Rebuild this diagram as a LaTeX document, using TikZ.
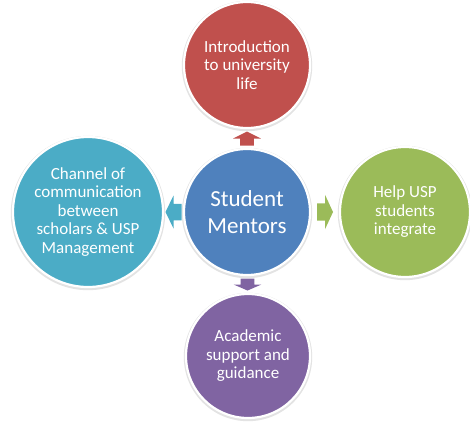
\documentclass[tikz,border=0pt]{standalone}
\usepackage{fontspec}
\setmainfont{Carlito}
\usetikzlibrary{calc}
\definecolor{cred}{HTML}{C0504D}
\definecolor{cteal}{HTML}{4BACC6}
\definecolor{cgreen}{HTML}{9BBB59}
\definecolor{cpurple}{HTML}{8064A2}
\definecolor{cblue}{HTML}{4F81BD}
\tikzset{
  bubble/.style={circle, draw=white, line width=2.2pt, text=white, align=center,
    inner sep=0pt, font=\fontsize{17}{18.5}\selectfont},
  rim/.style={fill=gray!22}
}
% block arrow: colour, coordinate, angle, length scale, width scale
\newcommand\myblockarrow[5]{%
  \fill[#1, shift={(#2)}, rotate=#3, xscale=#4, yscale=#5]
    (-8,-7.5) -- (0,-7.5) -- (0,-15) -- (8,0) -- (0,15) -- (0,7.5) -- (-8,7.5) -- cycle;}
\begin{document}
\begin{tikzpicture}[x=1pt,y=-1pt]
\useasboundingbox (0,0) rectangle (470,423);
% soft outer rims
\foreach \cx/\cy/\r in {247/65/63, 88/212/75, 247/212/63, 405/212/65, 248/356/62}
  \fill[rim] (\cx,\cy+1) circle (\r+2.2);
\node[bubble, fill=cred, minimum size=126pt] (top) at (247,65)
  {Introduction\\to university\\life};
\node[bubble, fill=cteal, minimum size=150pt] (left) at (88,212)
  {Channel of\\communication\\between\\scholars \& USP\\Management};
\node[bubble, fill=cgreen, minimum size=130pt] (right) at (405,212)
  {Help USP\\students\\integrate};
\node[bubble, fill=cpurple, minimum size=124pt] (bottom) at (248,356)
  {Academic\\support and\\guidance};
\node[bubble, fill=cblue, minimum size=126pt, font=\fontsize{23}{27}\selectfont] (mid) at (247,212)
  {Student\\Mentors};
% block arrows between the centre and each outer circle
\coordinate (atop) at ($(mid.north)!0.5!(top.south)$);
\coordinate (aleft) at ($(mid.west)!0.5!(left.east)$);
\coordinate (aright) at ($(mid.east)!0.5!(right.west)$);
\coordinate (abottom) at ($(mid.south)!0.5!(bottom.north)$);
\myblockarrow{cred}{atop}{90}{0.875}{0.93}
\myblockarrow{cteal}{aleft}{180}{1.0}{1.1}
\myblockarrow{cgreen}{aright}{0}{1.0}{1.15}
\myblockarrow{cpurple}{abottom}{-90}{0.75}{0.93}
\end{tikzpicture}
\end{document}
